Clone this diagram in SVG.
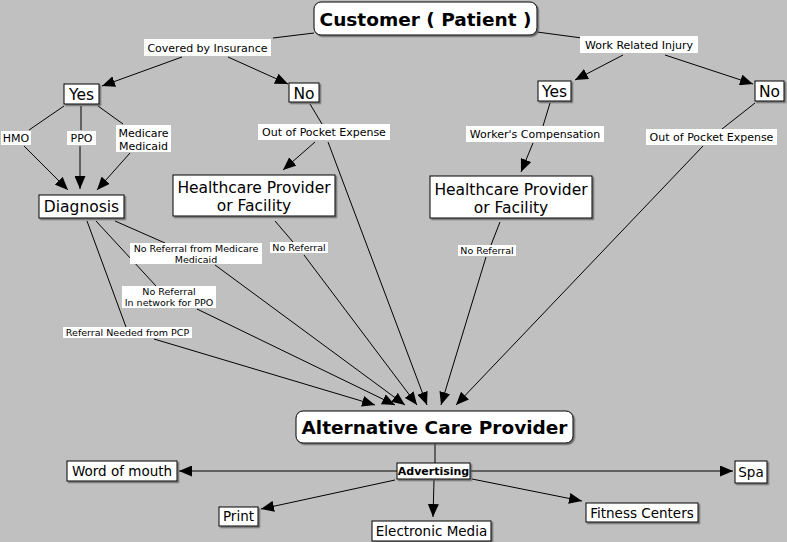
<svg xmlns="http://www.w3.org/2000/svg" width="787" height="542" viewBox="0 0 787 542">
<defs>
<marker id="ah" markerUnits="userSpaceOnUse" markerWidth="13" markerHeight="11" refX="13" refY="5.5" orient="auto"><path d="M0,0 L13,5.5 L0,11 z" fill="#000"/></marker>
<filter id="sh" x="-10%" y="-10%" width="130%" height="140%"><feDropShadow dx="1.5" dy="1.5" stdDeviation="0.6" flood-color="#555" flood-opacity="0.8"/></filter>
</defs>
<style>
.box{fill:#fff;stroke:#000;stroke-width:1;filter:url(#sh)}
.lbl{fill:#fff}
.t{font-family:"DejaVu Sans","Liberation Sans",sans-serif;fill:#000;text-anchor:middle}
.big{font-size:18.5px;font-weight:bold}
.n{font-size:15.5px}
.s{font-size:11px}
.xs{font-size:9.5px}
.b{font-size:13.5px}
.e line{stroke:#000;stroke-width:1}
.a{marker-end:url(#ah)}
</style>
<rect width="787" height="542" fill="#c0c0c0"/>
<g class="e" id="connectors">
<line x1="314" y1="33" x2="273" y2="38"/>
<line class="a" x1="182" y1="57" x2="102" y2="86"/>
<line class="a" x1="228" y1="57" x2="288" y2="84"/>
<line x1="537" y1="32" x2="582" y2="38"/>
<line class="a" x1="623" y1="55" x2="575" y2="80"/>
<line class="a" x1="665" y1="55" x2="753" y2="84"/>
<line x1="64" y1="106" x2="29" y2="130"/>
<line class="a" x1="24" y1="146" x2="68" y2="190"/>
<line x1="81" y1="106" x2="81" y2="130"/>
<line class="a" x1="80" y1="146" x2="80" y2="189"/>
<line x1="98" y1="106" x2="123" y2="124"/>
<line class="a" x1="130" y1="153" x2="97" y2="190"/>
<line x1="310" y1="104" x2="322" y2="124"/>
<line class="a" x1="315" y1="142" x2="283" y2="170"/>
<line class="a" x1="328" y1="142" x2="427" y2="405"/>
<line x1="550" y1="103" x2="543" y2="126"/>
<line class="a" x1="533" y1="143" x2="521" y2="172"/>
<line x1="755" y1="103" x2="722" y2="129"/>
<line class="a" x1="703" y1="146" x2="456" y2="405"/>
<line x1="275" y1="221" x2="293" y2="242"/>
<line class="a" x1="304" y1="255" x2="417" y2="405"/>
<line x1="500" y1="222" x2="491" y2="245"/>
<line class="a" x1="486" y1="257" x2="441" y2="405"/>
<line x1="115" y1="221" x2="165" y2="243"/>
<line class="a" x1="215" y1="265" x2="405" y2="405"/>
<line x1="96" y1="221" x2="156" y2="286"/>
<line class="a" x1="197" y1="309" x2="395" y2="405"/>
<line x1="87" y1="221" x2="126" y2="327"/>
<line class="a" x1="154" y1="339" x2="375" y2="405"/>
<line x1="435" y1="443" x2="435" y2="463"/>
<line class="a" x1="397" y1="471" x2="179" y2="471"/>
<line class="a" x1="470" y1="471" x2="733" y2="471"/>
<line class="a" x1="395" y1="480" x2="261" y2="509"/>
<line class="a" x1="434" y1="480" x2="433" y2="517"/>
<line class="a" x1="472" y1="479" x2="582" y2="501"/>
</g>
<g id="labels">
<rect class="lbl" x="144" y="39" width="127" height="17"/><text class="t s" x="207.5" y="52">Covered by Insurance</text>
<rect class="lbl" x="580" y="36" width="118" height="17"/><text class="t s" x="639" y="49">Work Related Injury</text>
<rect class="lbl" x="1" y="131" width="30" height="14"/><text class="t s" x="16" y="142">HMO</text>
<rect class="lbl" x="67" y="131" width="29" height="14"/><text class="t s" x="81.5" y="142">PPO</text>
<rect class="lbl" x="116" y="125" width="55" height="27"/><text class="t s" x="143.5" y="137">Medicare</text><text class="t s" x="143.5" y="150">Medicaid</text>
<rect class="lbl" x="258" y="124" width="132" height="16"/><text class="t s" x="324" y="136">Out of Pocket Expense</text>
<rect class="lbl" x="466" y="126" width="138" height="16"/><text class="t s" x="535" y="138">Worker's Compensation</text>
<rect class="lbl" x="646" y="129" width="131" height="16"/><text class="t s" x="711.5" y="141">Out of Pocket Expense</text>
<rect class="lbl" x="270" y="242" width="58" height="11"/><text class="t xs" x="299" y="251">No Referral</text>
<rect class="lbl" x="458" y="245" width="58" height="11"/><text class="t xs" x="487" y="254">No Referral</text>
<rect class="lbl" x="130" y="243" width="132" height="21"/><text class="t xs" x="196" y="252">No Referral from Medicare</text><text class="t xs" x="196" y="262.5">Medicaid</text>
<rect class="lbl" x="122" y="286" width="94" height="22"/><text class="t xs" x="169" y="295">No Referral</text><text class="t xs" x="169" y="305.5">In network for PPO</text>
<rect class="lbl" x="63" y="327" width="129" height="11"/><text class="t xs" x="127.5" y="336">Referral Needed from PCP</text>
</g>
<g id="customer"><rect class="box" x="314" y="2" width="223" height="33" rx="7"/><text class="t big" x="425.5" y="25.5">Customer ( Patient )</text></g>
<g id="yes-left"><rect class="box" x="64" y="84" width="35" height="20"/><text class="t n" x="81.5" y="100">Yes</text></g>
<g id="no-left"><rect class="box" x="289" y="83" width="30" height="19"/><text class="t n" x="304" y="99">No</text></g>
<g id="yes-right"><rect class="box" x="538" y="81" width="33" height="20"/><text class="t n" x="554.5" y="97">Yes</text></g>
<g id="no-right"><rect class="box" x="755" y="81" width="29" height="20"/><text class="t n" x="769.5" y="97">No</text></g>
<g id="diagnosis"><rect class="box" x="39" y="195" width="85" height="23"/><text class="t n" x="81.5" y="212">Diagnosis</text></g>
<g id="hcp-left"><rect class="box" x="173" y="175" width="162" height="41"/><text class="t n" x="254" y="193">Healthcare Provider</text><text class="t n" x="254" y="211">or Facility</text></g>
<g id="hcp-right"><rect class="box" x="430" y="176" width="162" height="42"/><text class="t n" x="511" y="195">Healthcare Provider</text><text class="t n" x="511" y="213">or Facility</text></g>
<g id="acp"><rect class="box" x="296" y="411" width="277" height="32" rx="7"/><text class="t big" x="434.5" y="434">Alternative Care Provider</text></g>
<g id="advertising"><rect class="box" x="397" y="463" width="73" height="16"/><text class="t" x="433.5" y="475" style="font-size:11px;font-weight:bold">Advertising</text></g>
<g id="word-of-mouth"><rect class="box" x="67" y="461" width="110" height="20"/><text class="t b" x="122" y="476">Word of mouth</text></g>
<g id="spa"><rect class="box" x="735" y="461" width="32" height="22"/><text class="t b" x="751" y="477">Spa</text></g>
<g id="print"><rect class="box" x="219" y="507" width="39" height="19"/><text class="t b" x="238.5" y="521">Print</text></g>
<g id="electronic-media"><rect class="box" x="372" y="521" width="119" height="20"/><text class="t b" x="431.5" y="536">Electronic Media</text></g>
<g id="fitness-centers"><rect class="box" x="586" y="503" width="112" height="19"/><text class="t b" x="642" y="518">Fitness Centers</text></g>
</svg>
